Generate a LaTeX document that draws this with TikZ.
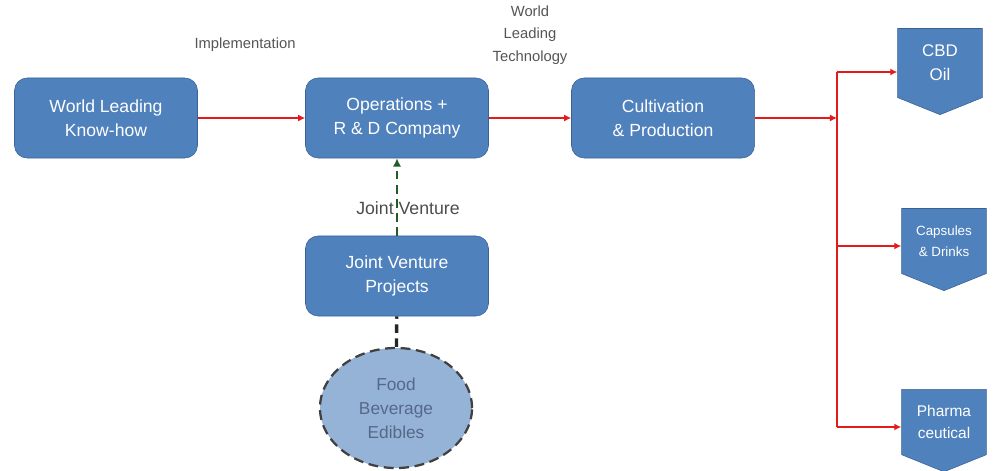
\documentclass[tikz,border=0pt]{standalone}
\usepackage{fontspec}
\setmainfont{Liberation Sans}
\usetikzlibrary{arrows.meta,shapes.symbols,shapes.geometric}

\definecolor{boxblue}{HTML}{4F81BD}
\definecolor{boxline}{HTML}{3A6295}
\definecolor{lightblue}{HTML}{95B3D7}
\definecolor{foodtext}{HTML}{56688A}
\definecolor{flowred}{HTML}{E31B1B}
\definecolor{jvgreen}{HTML}{1F5C26}
\definecolor{labelgray}{HTML}{555555}

\tikzset{
  stage/.style={draw=boxline, fill=boxblue, rounded corners=9pt, text=white,
    minimum width=4.575cm, minimum height=2cm, align=center,
    font=\fontsize{12.5}{17}\selectfont},
  product/.style={shape=signal, signal to=south, signal from=nowhere,
    signal pointer angle=136, draw=boxline, fill=boxblue, text=white,
    minimum width=2.12cm, minimum height=1.92cm, inner sep=1pt, align=center},
  note/.style={text=labelgray, align=center, font=\fontsize{10.5}{16}\selectfont},
  flow/.style={draw=flowred, line width=1.4pt, -{Latex[length=5pt,width=5pt]}},
}

\begin{document}
\begin{tikzpicture}[x=0.025cm, y=-0.025cm]
\useasboundingbox (0,0) rectangle (994,470);

% main line of stages
\node[stage] (knowhow) at (106,118) {World Leading\\Know-how};
\node[stage] (ops) at (397,118) {Operations +\\R \& D Company};
\node[stage] (cult) at (663,118) {Cultivation\\\& Production};
\node[stage] (jvp) at (397,276) {Joint Venture\\Projects};
\node[draw=black!75, line width=1.6pt, dash pattern=on 7pt off 4pt,
  fill=lightblue, ellipse, minimum width=3.8cm, minimum height=3cm,
  text=foodtext, align=center, font=\fontsize{12.3}{17}\selectfont]
  (food) at (396,408) {Food\\Beverage\\Edibles};

% products
\node[product, font=\fontsize{12}{17}\selectfont] (cbd) at (940,63) {CBD\\Oil};
\node[product, font=\fontsize{9.5}{15}\selectfont] (caps) at (944,241) {Capsules\\\& Drinks};
\node[product, font=\fontsize{11}{16}\selectfont] (pharma) at (944,422) {Pharma\\ceutical};

% labels
\node[note] (impl) at (245,45) {Implementation};
\node[note] (tech) at (530,35) {World\\Leading\\Technology};
\node[text=black!70, font=\fontsize{12.6}{15}\selectfont] (jvlabel) at (408,208) {Joint Venture};

% red flow
\coordinate (split) at (837,118);
\coordinate (top) at (837,72);
\coordinate (mid) at (837,246);
\coordinate (bot) at (837,427);
\draw[flow] (knowhow) -- (ops);
\draw[flow] (ops) -- (cult);
\draw[flow] (cult) -- (split);
\draw[draw=flowred, line width=1.4pt] (top) -- (bot);
\draw[flow] (top) -- (top -| cbd.west);
\draw[flow] (mid) -- (mid -| caps.west);
\draw[flow] (bot) -- (bot -| pharma.west);

% joint venture links
\draw[jvgreen, line width=2pt, dash pattern=on 6pt off 4pt, -{Latex[length=6pt,width=6pt]}]
  (jvp) -- (ops);
\draw[black!85, line width=2.4pt, dash pattern=on 6pt off 4pt] (food) -- (jvp);
\end{tikzpicture}
\end{document}
